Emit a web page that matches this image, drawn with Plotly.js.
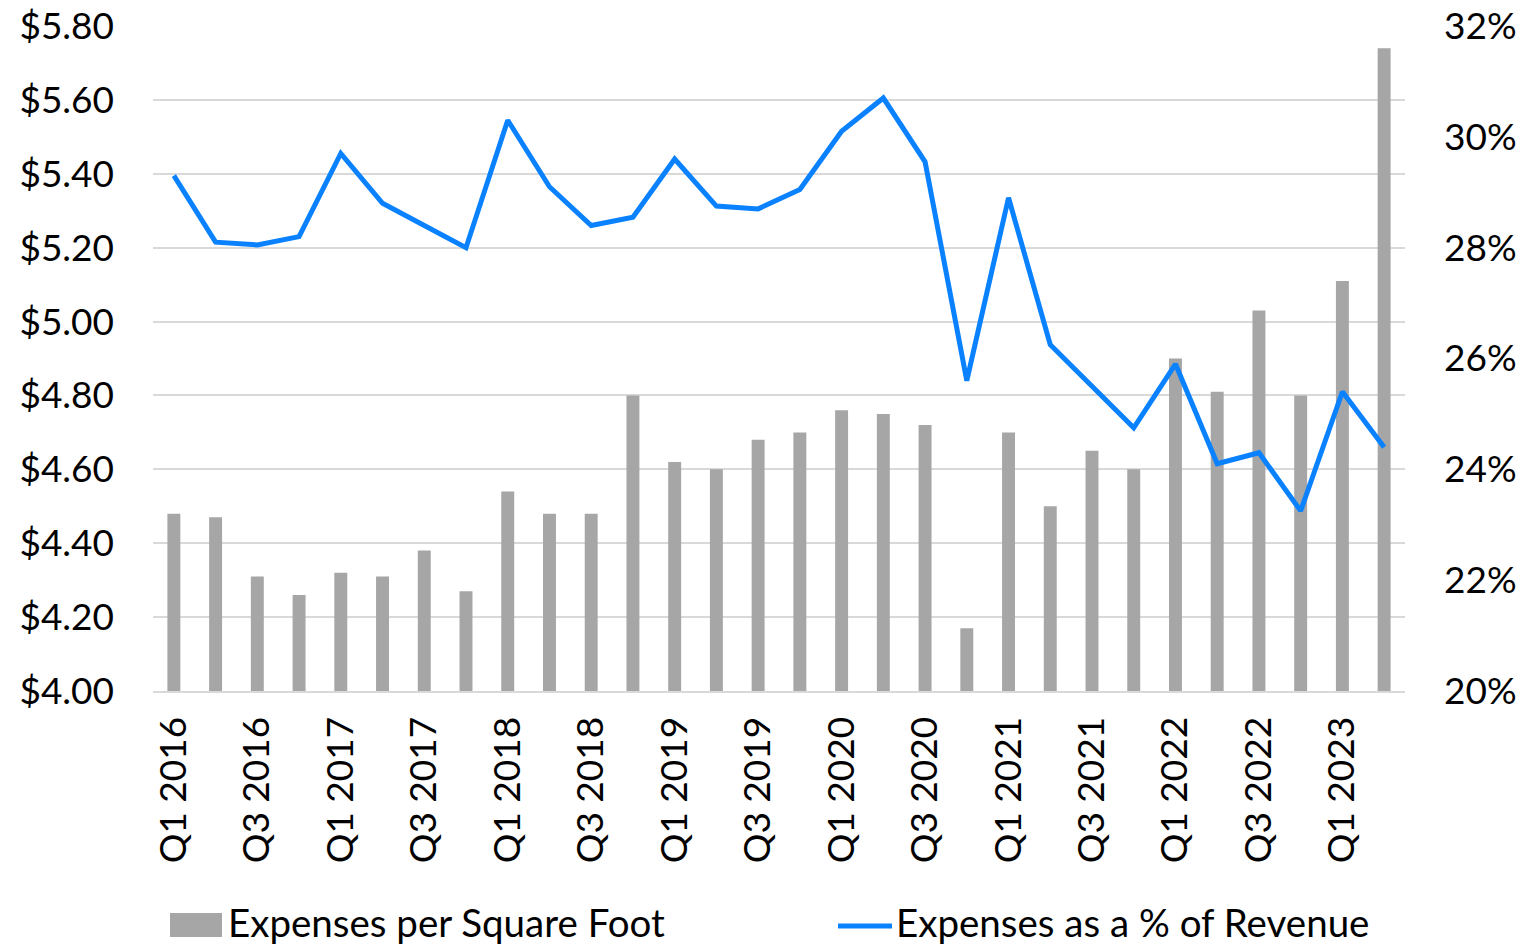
<!DOCTYPE html>
<html><head><meta charset="utf-8">
<script src="https://cdn.plot.ly/plotly-3.0.1.min.js"></script>
<style>html,body{margin:0;padding:0;background:#fff}#chart{width:1522px;height:948px}</style>
</head><body><div id="chart"></div>
<script>
const quarters = [
  "Q1 2016","Q2 2016","Q3 2016","Q4 2016",
  "Q1 2017","Q2 2017","Q3 2017","Q4 2017",
  "Q1 2018","Q2 2018","Q3 2018","Q4 2018",
  "Q1 2019","Q2 2019","Q3 2019","Q4 2019",
  "Q1 2020","Q2 2020","Q3 2020","Q4 2020",
  "Q1 2021","Q2 2021","Q3 2021","Q4 2021",
  "Q1 2022","Q2 2022","Q3 2022","Q4 2022",
  "Q1 2023","Q2 2023"
];
const expensesPerSqFt = [
  4.48, 4.47, 4.31, 4.26,
  4.32, 4.31, 4.38, 4.27,
  4.54, 4.48, 4.48, 4.80,
  4.62, 4.60, 4.68, 4.70,
  4.76, 4.75, 4.72, 4.17,
  4.70, 4.50, 4.65, 4.60,
  4.90, 4.81, 5.03, 4.80,
  5.11, 5.74
];
const expensesPctRevenue = [
  29.3, 28.1, 28.05, 28.2,
  29.7, 28.8, 28.4, 28.0,
  30.3, 29.1, 28.4, 28.55,
  29.6, 28.75, 28.7, 29.05,
  30.1, 30.7, 29.55, 25.6,
  28.9, 26.25, 25.5, 24.75,
  25.9, 24.1, 24.3, 23.25,
  25.4, 24.4
];
const leftTicks = [4.0,4.2,4.4,4.6,4.8,5.0,5.2,5.4,5.6,5.8];
const leftTickText = ["$4.00","$4.20","$4.40","$4.60","$4.80","$5.00","$5.20","$5.40","$5.60","$5.80"];
const rightTicks = [20,22,24,26,28,30,32];
const rightTickText = ["20%","22%","24%","26%","28%","30%","32%"];
const xTickVals = quarters.filter((q,i)=>i%2===0 && i<29);
const seriesNames = ["Expenses per Square Foot", "Expenses as a % of Revenue"];
const barColor = "#A6A6A6";
const lineColor = "#0A82FF";

const font = {family:"Lato, 'Open Sans', sans-serif", size:37, color:"#000"};
const legendFont = {family:"Lato, 'Open Sans', sans-serif", size:38.5, color:"#000"};

// plot area in pixels: x 153..1405, y 26..691
const PX = (px) => (px - 153) / 1252;
const PY = (py) => (691 - py) / 665;

const data = [
  {type:"bar", name:seriesNames[0], x:quarters, y:expensesPerSqFt,
   marker:{color:barColor}, width:0.31, yaxis:"y", hoverinfo:"skip", showlegend:false},
  {type:"scatter", mode:"lines", name:seriesNames[1], x:quarters, y:expensesPctRevenue,
   line:{color:lineColor, width:5}, yaxis:"y2", hoverinfo:"skip", showlegend:false}
];
const layout = {
  width:1522, height:948,
  margin:{l:153, r:117, t:26, b:257},
  paper_bgcolor:"#fff", plot_bgcolor:"#fff",
  font:font,
  showlegend:false,
  xaxis:{type:"category", categoryorder:"array", categoryarray:quarters, range:[-0.5,29.5],
    tickvals:xTickVals, ticktext:xTickVals, tickangle:-90, ticks:"", ticklabelstandoff:9,
    showgrid:false, showline:true, linecolor:"#D9D9D9", linewidth:2, zeroline:false, tickfont:font,
    automargin:false},
  yaxis:{range:[4.0,5.8], tickvals:leftTicks, ticktext:leftTickText, showgrid:true, gridcolor:"#D9D9D9",
    gridwidth:2, zeroline:false, showline:false, ticks:"", ticklabelstandoff:38, tickfont:font, automargin:false},
  yaxis2:{range:[20,32], overlaying:"y", side:"right", tickvals:rightTicks, ticktext:rightTickText,
    showgrid:false, zeroline:false, showline:false, ticks:"", ticklabelstandoff:38, tickfont:font, automargin:false},
  shapes:[
    {type:"rect", xref:"paper", yref:"paper", x0:PX(170), x1:PX(222), y0:PY(913), y1:PY(937),
     fillcolor:barColor, line:{width:0}},
    {type:"line", xref:"paper", yref:"paper", x0:PX(838), x1:PX(892), y0:PY(926), y1:PY(926),
     line:{color:lineColor, width:5}}
  ],
  annotations:[
    {xref:"paper", yref:"paper", x:PX(226), y:PY(922), xanchor:"left", yanchor:"middle",
     text:seriesNames[0], showarrow:false, font:legendFont},
    {xref:"paper", yref:"paper", x:PX(894), y:PY(922), xanchor:"left", yanchor:"middle",
     text:seriesNames[1], showarrow:false, font:legendFont}
  ]
};
Plotly.newPlot("chart", data, layout, {staticPlot:true, displayModeBar:false});
</script></body></html>
